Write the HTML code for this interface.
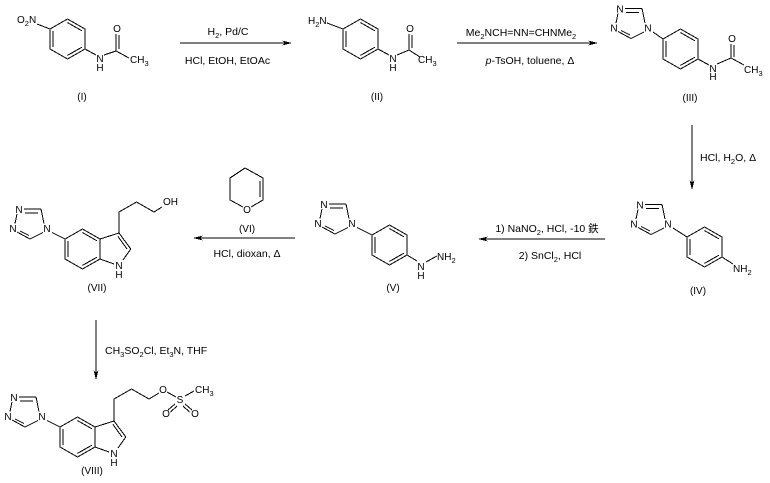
<!DOCTYPE html>
<html><head><meta charset="utf-8"><style>
html,body{margin:0;padding:0;background:#fff;}
svg{display:block;}
text{font-family:"Liberation Sans","Noto Sans CJK JP",Arial,sans-serif;fill:#000;}
</style></head><body>
<svg width="770" height="483" viewBox="0 0 770 483" xmlns="http://www.w3.org/2000/svg" shape-rendering="crispEdges">
<defs>
<g id="hex" fill="none" stroke="#000" stroke-width="1">
<path d="M-17.5,-10 L0,-20 L17.5,-10 L17.5,10 L0,20 L-17.5,10 Z"/>
<path d="M0,-16.4 L14.35,-8.2 M14.35,8.2 L0,16.4 M-14.35,8.2 L-14.35,-8.2"/>
</g>
<g id="tz">
<g fill="none" stroke="#000" stroke-width="1">
<path d="M5,-0.5 L22,-0.5 M6,3.5 L19,3.5 M22,-0.5 L25,14 M24,23 L11,29.5 M11,29.5 L-2,22.5 M10,26 L1,21.5 M-4,14 L-2,4.5"/>
</g>
<text x="0" y="3.5" font-size="10" text-anchor="middle">N</text>
<text x="28" y="22.5" font-size="10" text-anchor="middle">N</text>
<text x="-6" y="22.5" font-size="10" text-anchor="middle">N</text>
</g>
</defs>

<g fill="none" stroke="#000" stroke-width="1">
<!-- Compound I -->
<path d="M37,24 L50,29 M85,49 L96,55 M104,55 L116,51 M116,51 L129,58 M116,34 L116,51 M119,35 L119,49"/>
<!-- Arrow 1 -->
<path d="M180,43 L286,43"/>
<!-- Compound II -->
<path d="M327,23 L343,29 M378,49 L389,55 M397,55 L409,50 M409,50 L420,57 M409,34 L409,50 M412,35 L412,48"/>
<!-- Arrow 2 -->
<path d="M457,43 L592,43"/>
<!-- Compound III -->
<path d="M653,32 L663,39 M698,59 L709,65 M717,64 L731,58 M731,58 L744,65 M731,44 L731,58 M734,45 L734,57"/>
<!-- Arrow down 1 -->
<path d="M692,125 L692,184"/>
<!-- Compound IV -->
<path d="M673,228 L687,237 M722,257 L733,264"/>
<!-- Arrow IV->V -->
<path d="M484,239 L605,239"/>
<!-- Compound V -->
<path d="M357,227.5 L372,235 M407,255 L417,261 M426,262 L437,256"/>
<!-- Arrow V->VII -->
<path d="M199,238 L295,238"/>
<!-- Compound VI -->
<path d="M245,168 L263,178 L263,200 L251,207 M243,207 L230,200 L230,178 L245,168 M260,181 L260,197"/>
<!-- Compound VII -->
<path d="M52,232.5 L65,239 M100,239 L119,233 L130.8,249 L123,260 M114,264 L100,259 M117.9,236.4 L127,249 M119,233 L119,212 L136.5,202 L154,212 L162,207"/>
<!-- Arrow down 2 -->
<path d="M96,320 L96,374"/>
<!-- Compound VIII -->
<path d="M47,420.5 L60,427 M95,427 L114,421 L125.8,437 L118,448 M109,452 L95,447 M112.9,424.4 L122,437 M114,421 L114,399 L131.5,389 L149,399 L159,393 M167,392 L176,397 M185,396 L194,391 M175,404 L168,410 M177,406 L170.5,412 M185,404 L192,410 M183,406 L189.5,412"/>
</g>

<!-- arrowheads -->
<g fill="#000">
<polygon points="292,43 282,40.5 285,43 282,45.5"/>
<polygon points="598,43 588,40.5 591,43 588,45.5"/>
<polygon points="692,190 689.5,180 692,183 694.5,180"/>
<polygon points="478,239 488,236.5 485,239 488,241.5"/>
<polygon points="193,238 203,235.5 200,238 203,240.5"/>
<polygon points="96,380 93.5,370 96,373 98.5,370"/>
</g>

<!-- rings -->
<use href="#hex" x="67.5" y="39"/>
<use href="#hex" x="360.5" y="39"/>
<use href="#hex" x="680.5" y="49"/>
<use href="#hex" x="704.5" y="247"/>
<use href="#hex" x="389.5" y="245"/>
<use href="#hex" x="82.5" y="249"/>
<use href="#hex" x="77.5" y="437"/>

<use href="#tz" x="620" y="9"/>
<use href="#tz" x="640" y="205"/>
<use href="#tz" x="324" y="204.5"/>
<use href="#tz" x="19" y="209.5"/>
<use href="#tz" x="14" y="397.5"/>

<g font-size="10">
<!-- I -->
<text x="17" y="23">O<tspan font-size="7.5" dy="3">2</tspan><tspan dy="-3">N</tspan></text>
<text x="100" y="62" text-anchor="middle">N</text>
<text x="100" y="71" text-anchor="middle">H</text>
<text x="117" y="32" text-anchor="middle">O</text>
<text x="130" y="63">CH<tspan font-size="7.5" dy="3">3</tspan></text>
<text x="82" y="100" text-anchor="middle">(I)</text>
<!-- II -->
<text x="308" y="24">H<tspan font-size="7.5" dy="3">2</tspan><tspan dy="-3">N</tspan></text>
<text x="393" y="62" text-anchor="middle">N</text>
<text x="393" y="71" text-anchor="middle">H</text>
<text x="410" y="32" text-anchor="middle">O</text>
<text x="418" y="63">CH<tspan font-size="7.5" dy="3">3</tspan></text>
<text x="377" y="100" text-anchor="middle">(II)</text>
<!-- III -->
<text x="713" y="72" text-anchor="middle">N</text>
<text x="713" y="80" text-anchor="middle">H</text>
<text x="732" y="42" text-anchor="middle">O</text>
<text x="744" y="73">CH<tspan font-size="7.5" dy="3">3</tspan></text>
<text x="690" y="101" text-anchor="middle">(III)</text>
<!-- IV -->
<text x="733" y="272">NH<tspan font-size="7.5" dy="3">2</tspan></text>
<text x="698" y="294" text-anchor="middle">(IV)</text>
<!-- V -->
<text x="421" y="270" text-anchor="middle">N</text>
<text x="421" y="279" text-anchor="middle">H</text>
<text x="437" y="260">NH<tspan font-size="7.5" dy="3">2</tspan></text>
<text x="393" y="291" text-anchor="middle">(V)</text>
<!-- VI -->
<text x="247" y="213" text-anchor="middle">O</text>
<text x="247" y="232" text-anchor="middle">(VI)</text>
<!-- VII -->
<text x="163" y="205">OH</text>
<text x="119" y="269" text-anchor="middle">N</text>
<text x="119" y="278" text-anchor="middle">H</text>
<text x="97" y="291" text-anchor="middle">(VII)</text>
<!-- VIII -->
<text x="114" y="457" text-anchor="middle">N</text>
<text x="114" y="466" text-anchor="middle">H</text>
<text x="163" y="393" text-anchor="middle">O</text>
<text x="180" y="403" text-anchor="middle">S</text>
<text x="195" y="393">CH<tspan font-size="7.5" dy="3">3</tspan></text>
<text x="166" y="417" text-anchor="middle">O</text>
<text x="195" y="417" text-anchor="middle">O</text>
<text x="92" y="474" text-anchor="middle">(VIII)</text>
</g>

<g font-size="10.5">
<text x="228" y="35" text-anchor="middle">H<tspan font-size="7.5" dy="3">2</tspan><tspan dy="-3">, Pd/C</tspan></text>
<text x="227.5" y="64" text-anchor="middle">HCl, EtOH, EtOAc</text>
<text x="521" y="36" text-anchor="middle">Me<tspan font-size="7.5" dy="3">2</tspan><tspan dy="-3">NCH=NN=CHNMe</tspan><tspan font-size="7.5" dy="3">2</tspan></text>
<text x="530" y="64" text-anchor="middle"><tspan font-style="italic">p</tspan>-TsOH, toluene, Δ</text>
<text x="700" y="161">HCl, H<tspan font-size="7.5" dy="3">2</tspan><tspan dy="-3">O, Δ</tspan></text>
<text x="547" y="232" text-anchor="middle">1) NaNO<tspan font-size="7.5" dy="3">2</tspan><tspan dy="-3">, HCl, -10 鉄</tspan></text>
<text x="550" y="259" text-anchor="middle">2) SnCl<tspan font-size="7.5" dy="3">2</tspan><tspan dy="-3">, HCl</tspan></text>
<text x="247" y="257" text-anchor="middle">HCl, dioxan, Δ</text>
<text x="105" y="354">CH<tspan font-size="7.5" dy="3">3</tspan><tspan dy="-3">SO</tspan><tspan font-size="7.5" dy="3">2</tspan><tspan dy="-3">Cl, Et</tspan><tspan font-size="7.5" dy="3">3</tspan><tspan dy="-3">N, THF</tspan></text>
</g>
</svg>
</body></html>
